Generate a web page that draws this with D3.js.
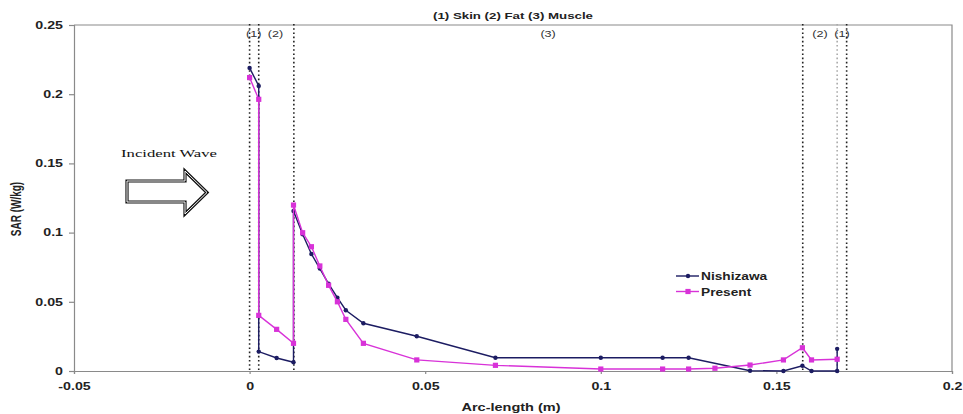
<!DOCTYPE html>
<html>
<head>
<meta charset="utf-8">
<script src="https://cdn.jsdelivr.net/npm/d3@7"></script>
<style>
  body { margin: 0; background: #fff; }
  svg { display: block; font-family: "Liberation Sans", Arial, sans-serif; }
</style>
</head>
<body>
<div id="chart"></div>
<script>
const width = 963
const height = 414
const margin = {top: 25, bottom: 43, left: 74, right: 11}

// data
const nishX = [0, 0.0026, 0.0026, 0.0077, 0.0125, 0.0125, 0.0151, 0.0176, 0.02, 0.0225, 0.025, 0.0274, 0.0324, 0.0476, 0.07, 0.1, 0.1176, 0.125, 0.1425, 0.152, 0.1574, 0.16, 0.1673, 0.1673]
const nishY = [0.219, 0.206, 0.014, 0.0094, 0.0063, 0.1156, 0.0988, 0.0845, 0.074, 0.063, 0.053, 0.0439, 0.0345, 0.0251, 0.0096, 0.0096, 0.0096, 0.0096, 0.0002, 0, 0.0038, 0, 0, 0.016]
const presX = [0, 0.0026, 0.0026, 0.0077, 0.0125, 0.0125, 0.0151, 0.0176, 0.02, 0.0225, 0.025, 0.0274, 0.0324, 0.0476, 0.07, 0.1, 0.1176, 0.125, 0.1325, 0.1425, 0.152, 0.1574, 0.16, 0.1673]
const presY = [0.212, 0.1963, 0.0402, 0.0301, 0.020, 0.1199, 0.0999, 0.0898, 0.0759, 0.0619, 0.050, 0.0373, 0.020, 0.008, 0.0041, 0.0014, 0.0014, 0.0014, 0.002, 0.0043, 0.008, 0.0168, 0.008, 0.0085]

const xTicks = [-0.05, 0, 0.05, 0.1, 0.15, 0.2]
const yTicks = [0, 0.05, 0.1, 0.15, 0.2, 0.25]
const xTickLabels = ["-0.05", "0", "0.05", "0.1", "0.15", "0.2"]
const yTickLabels = ["0", "0.05", "0.1", "0.15", "0.2", "0.25"]

// layer boundaries (dotted lines) and layer labels
const boundaries = [0, 0.0026, 0.0126, 0.1575, 0.1673, 0.170]
const boundaryLight = [false, false, false, false, true, false]
const layerLabels = ["(1)", "(2)", "(3)", "(2)", "(1)"]
const layerLabelX = [0.0012, 0.0074, 0.085, 0.1624, 0.1687]

const seriesNames = ["Nishizawa", "Present"]
const seriesColors = ["#1c1c62", "#d832d8"]

const svg = d3.select("#chart").append("svg").attr("width", width).attr("height", height)
const x = d3.scaleLinear().domain([-0.05, 0.2]).range([margin.left, width - margin.right])
const y = d3.scaleLinear().domain([0, 0.25]).range([height - margin.bottom, margin.top])

// stretch text horizontally like the original (the picture is widened)
function stretch(sel, k) {
    sel.each(function(){
        const w = this.getComputedTextLength()
        d3.select(this).attr("textLength", w * k).attr("lengthAdjust", "spacingAndGlyphs")
    })
}

// plot frame
svg.append("path")
    .attr("d", `M${x(-0.05)},${y(0.25)}H${x(0.2)}V${y(0)}`)
    .attr("fill", "none").attr("stroke", "#8a8a8a").attr("stroke-width", 1.2)

// axes
const xAxisGroup = svg.append("g").attr("transform", `translate(0, ${y(0)})`)
    .call(d3.axisBottom(x).tickValues(xTicks).tickFormat((d, i) => xTickLabels[i]).tickSize(3).tickPadding(9))
const yAxisGroup = svg.append("g").attr("transform", `translate(${x(-0.05)}, 0)`)
    .call(d3.axisLeft(y).tickValues(yTicks).tickFormat((d, i) => yTickLabels[i]).tickSize(5).tickPadding(6))
svg.selectAll(".domain, .tick line").attr("stroke", "#8a8a8a").attr("stroke-width", 1.2)
svg.selectAll(".tick text").attr("font-size", 10).attr("font-weight", "bold").attr("fill", "#222")
    .attr("font-family", "Liberation Sans, Arial, sans-serif")
stretch(svg.selectAll(".tick text"), 1.42)

// dotted layer boundaries
svg.append("g").selectAll("line").data(boundaries).join("line")
    .attr("x1", d => x(d)).attr("x2", d => x(d))
    .attr("y1", y(0.25) - 1).attr("y2", y(0))
    .attr("stroke", (d, i) => boundaryLight[i] ? "#aaa" : "#222")
    .attr("stroke-width", 1.6)
    .attr("stroke-dasharray", "1.6,2.6")

svg.append("g").selectAll("text").data(layerLabels).join("text")
    .attr("x", (d, i) => x(layerLabelX[i])).attr("y", 37)
    .attr("text-anchor", "middle").attr("font-size", 9).attr("fill", "#333")
    .text(d => d)
    .call(stretch, 1.4)

// title
svg.append("text").attr("x", 513).attr("y", 19).attr("text-anchor", "middle")
    .attr("font-size", 9).attr("font-weight", "bold").attr("fill", "#222")
    .text("(1) Skin (2) Fat (3) Muscle")
    .attr("textLength", 160).attr("lengthAdjust", "spacingAndGlyphs")

// axis titles
svg.append("text").attr("x", 511).attr("y", 411).attr("text-anchor", "middle")
    .attr("font-size", 11).attr("font-weight", "bold").attr("fill", "#222")
    .text("Arc-length (m)")
    .attr("textLength", 99).attr("lengthAdjust", "spacingAndGlyphs")
svg.append("text").attr("transform", "translate(21, 209) scale(1.4, 1) rotate(-90)")
    .attr("text-anchor", "middle")
    .attr("font-size", 10).attr("font-weight", "bold").attr("fill", "#222")
    .text("SAR (W/kg)")

// incident wave annotation
svg.append("text").attr("x", 121).attr("y", 157)
    .attr("font-family", "Liberation Serif, Times New Roman, serif")
    .attr("font-size", 11).attr("fill", "#111")
    .text("Incident Wave")
    .attr("textLength", 96).attr("lengthAdjust", "spacingAndGlyphs")
const arrow = "M127,181H185V171L207,192.5L185,214V202H127Z"
svg.append("path").attr("d", arrow).attr("fill", "#fff").attr("stroke", "#111").attr("stroke-width", 3.2)
svg.append("path").attr("d", arrow).attr("fill", "none").attr("stroke", "#fff").attr("stroke-width", 1)

// series
const seriesData = [
    nishX.map((d, i) => ({x: d, y: nishY[i]})),
    presX.map((d, i) => ({x: d, y: presY[i]}))
]
const line = d3.line().x(d => x(d.x)).y(d => y(d.y))

seriesData.forEach((data, s) => {
    const g = svg.append("g")
    g.append("path").datum(data).attr("d", line)
        .attr("fill", "none").attr("stroke", seriesColors[s]).attr("stroke-width", 1.4)
    if (s === 0) {
        g.selectAll("circle").data(data).join("circle")
            .attr("cx", d => x(d.x)).attr("cy", d => y(d.y)).attr("r", 2.2)
            .attr("fill", seriesColors[s])
    } else {
        g.selectAll("rect").data(data).join("rect")
            .attr("x", d => x(d.x) - 2.6).attr("y", d => y(d.y) - 2.6)
            .attr("width", 5.2).attr("height", 5.2)
            .attr("fill", seriesColors[s])
    }
})

// legend
const legend = svg.append("g").attr("transform", "translate(676, 276)")
seriesNames.forEach((name, i) => {
    const row = legend.append("g").attr("transform", `translate(0, ${i * 15.5})`)
    row.append("line").attr("x1", 0).attr("x2", 23).attr("stroke", seriesColors[i]).attr("stroke-width", 1.4)
    if (i === 0) row.append("circle").attr("cx", 12).attr("r", 2.2).attr("fill", seriesColors[i])
    else row.append("rect").attr("x", 9.4).attr("y", -2.6).attr("width", 5.2).attr("height", 5.2).attr("fill", seriesColors[i])
    row.append("text").attr("x", 25).attr("y", 4).attr("font-size", 10).attr("font-weight", "bold")
        .attr("fill", "#222").text(name).call(stretch, 1.37)
})
</script>
</body>
</html>
